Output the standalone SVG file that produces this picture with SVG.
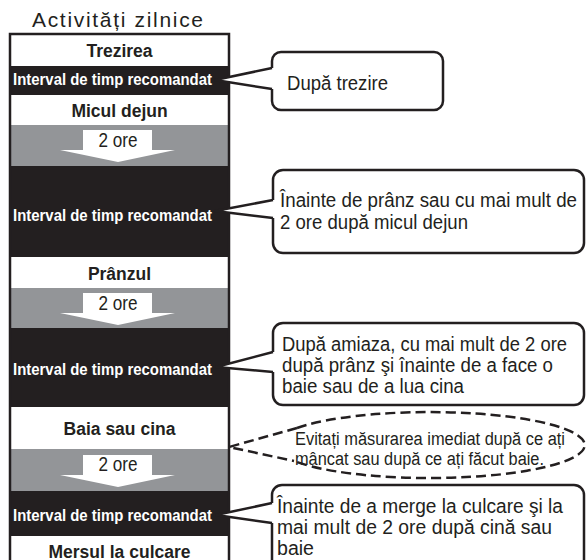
<svg xmlns="http://www.w3.org/2000/svg" width="587" height="560" viewBox="0 0 587 560">
<style>
text{font-family:"Liberation Sans",Arial,sans-serif;}
.w{fill:#ffffff;}
.b{fill:#231f20;}
.g{fill:#939598;}
.lbl{font-size:17.5px;font-weight:bold;fill:#231f20;text-anchor:middle;}
.itv{font-size:16px;font-weight:bold;fill:#ffffff;}
.ore{font-size:20px;fill:#231f20;text-anchor:middle;}
.box{fill:#ffffff;stroke:#231f20;stroke-width:2.5;stroke-linejoin:round;}
.ct{font-size:20px;fill:#231f20;}
.nt{font-size:18px;fill:#231f20;}
.note{fill:#ffffff;stroke:#231f20;stroke-width:2.5;stroke-dasharray:10 5;}
.tail{fill:#ffffff;stroke:#231f20;stroke-width:2.5;stroke-linejoin:miter;}
.dtail{fill:none;stroke:#231f20;stroke-width:2.5;stroke-dasharray:10 5;}
.arr{fill:#ffffff;}
</style>
<defs>
<path id="arrow" class="arr" d="M83,0 H152 V20 H175 L118,32 L60,20 H83 Z"/>
</defs>
<rect x="0" y="0" width="587" height="560" fill="#ffffff"/>
<g id="title">
<text x="32" y="27" font-size="21" fill="#231f20" textLength="171">Activități zilnice</text>
</g>
<g id="column">
<rect class="w" x="10" y="34" width="219" height="32"/>
<rect class="b" x="10" y="66" width="219" height="29"/>
<rect class="w" x="10" y="95" width="219" height="30"/>
<rect class="g" x="10" y="125" width="219" height="41"/>
<rect class="b" x="10" y="166" width="219" height="91"/>
<rect class="w" x="10" y="257" width="219" height="31"/>
<rect class="g" x="10" y="288" width="219" height="40"/>
<rect class="b" x="10" y="328" width="219" height="79"/>
<rect class="w" x="10" y="407" width="219" height="42"/>
<rect class="g" x="10" y="449" width="219" height="42"/>
<rect class="b" x="10" y="491" width="219" height="45"/>
<rect class="w" x="10" y="536" width="219" height="34"/>
<rect x="10" y="34" width="219" height="540" fill="none" stroke="#231f20" stroke-width="2.5"/>
</g>
<g id="trezirea"><text class="lbl" x="119.5" y="57">Trezirea</text></g>
<g id="interval1"><text class="itv" x="13" y="85" textLength="199" lengthAdjust="spacingAndGlyphs">Interval de timp recomandat</text></g>
<g id="micul-dejun"><text class="lbl" x="119.5" y="117">Micul dejun</text></g>
<g id="ore1"><use href="#arrow" y="130"/><text class="ore" x="118" y="147" textLength="39" lengthAdjust="spacingAndGlyphs">2 ore</text></g>
<g id="interval2"><text class="itv" x="13" y="221" textLength="199" lengthAdjust="spacingAndGlyphs">Interval de timp recomandat</text></g>
<g id="pranzul"><text class="lbl" x="119.5" y="280">Prânzul</text></g>
<g id="ore2"><use href="#arrow" y="293"/><text class="ore" x="118" y="310" textLength="39" lengthAdjust="spacingAndGlyphs">2 ore</text></g>
<g id="interval3"><text class="itv" x="13" y="375" textLength="199" lengthAdjust="spacingAndGlyphs">Interval de timp recomandat</text></g>
<g id="baia-sau-cina"><text class="lbl" x="119.5" y="435">Baia sau cina</text></g>
<g id="ore3"><use href="#arrow" y="455"/><text class="ore" x="118" y="471" textLength="39" lengthAdjust="spacingAndGlyphs">2 ore</text></g>
<g id="interval4"><text class="itv" x="13" y="521" textLength="199" lengthAdjust="spacingAndGlyphs">Interval de timp recomandat</text></g>
<g id="mersul"><text class="lbl" x="119.5" y="558">Mersul la culcare</text></g>

<g id="callout1">
<path class="box" d="M272,89 V101 A9 9 0 0 0 281,110 H434 A9 9 0 0 0 443,101 V61 A9 9 0 0 0 434,52 H281 A9 9 0 0 0 272,61 V68"/>
<text class="ct" x="287" y="90" textLength="101" lengthAdjust="spacingAndGlyphs">După trezire</text>
</g>
<g id="callout2">
<path class="box" d="M273,218 V243 A10 10 0 0 0 283,253 H574 A10 10 0 0 0 584,243 V180 A10 10 0 0 0 574,170 H283 A10 10 0 0 0 273,180 V200"/>
<text class="ct" x="280" y="207" textLength="297" lengthAdjust="spacingAndGlyphs">Înainte de prânz sau cu mai mult de</text>
<text class="ct" x="280" y="229" textLength="188" lengthAdjust="spacingAndGlyphs">2 ore după micul dejun</text>
</g>
<g id="callout3">
<path class="box" d="M273,372 V395 A10 10 0 0 0 283,405 H574 A10 10 0 0 0 584,395 V333 A10 10 0 0 0 574,323 H283 A10 10 0 0 0 273,333 V352"/>
<text class="ct" x="282" y="351" textLength="285" lengthAdjust="spacingAndGlyphs">După amiaza, cu mai mult de 2 ore</text>
<text class="ct" x="282" y="372" textLength="271" lengthAdjust="spacingAndGlyphs">după prânz şi înainte de a face o</text>
<text class="ct" x="282" y="393" textLength="182" lengthAdjust="spacingAndGlyphs">baie sau de a lua cina</text>
</g>
<g id="note">
<path class="note" d="M297,428 A155 33 0 1 1 294,461"/>
<text class="nt" x="295" y="445" textLength="270" lengthAdjust="spacingAndGlyphs">Evitați măsurarea imediat după ce ați</text>
<text class="nt" x="295" y="465" textLength="249" lengthAdjust="spacingAndGlyphs">mâncat sau după ce ați făcut baie.</text>
</g>
<g id="callout4">
<path class="box" d="M272,523 V566 A10 10 0 0 0 282,576 H574 A10 10 0 0 0 584,566 V495 A10 10 0 0 0 574,485 H282 A10 10 0 0 0 272,495 V503"/>
<text class="ct" x="277" y="513" textLength="286" lengthAdjust="spacingAndGlyphs">Înainte de a merge la culcare şi la</text>
<text class="ct" x="277" y="534" textLength="275" lengthAdjust="spacingAndGlyphs">mai mult de 2 ore după cină sau</text>
<text class="ct" x="277" y="555" textLength="37" lengthAdjust="spacingAndGlyphs">baie</text>
</g>

<g id="connectors">
<path class="tail" d="M272,68 L215,80 L272,89"/>
<path class="tail" d="M273,200 L215,211 L273,218"/>
<path class="tail" d="M273,352 L216,367 L273,372"/>
<path class="dtail" d="M297,428 L229,447 L294,461"/>
<path class="tail" d="M272,503 L216,515 L272,523"/>
</g>
</svg>
